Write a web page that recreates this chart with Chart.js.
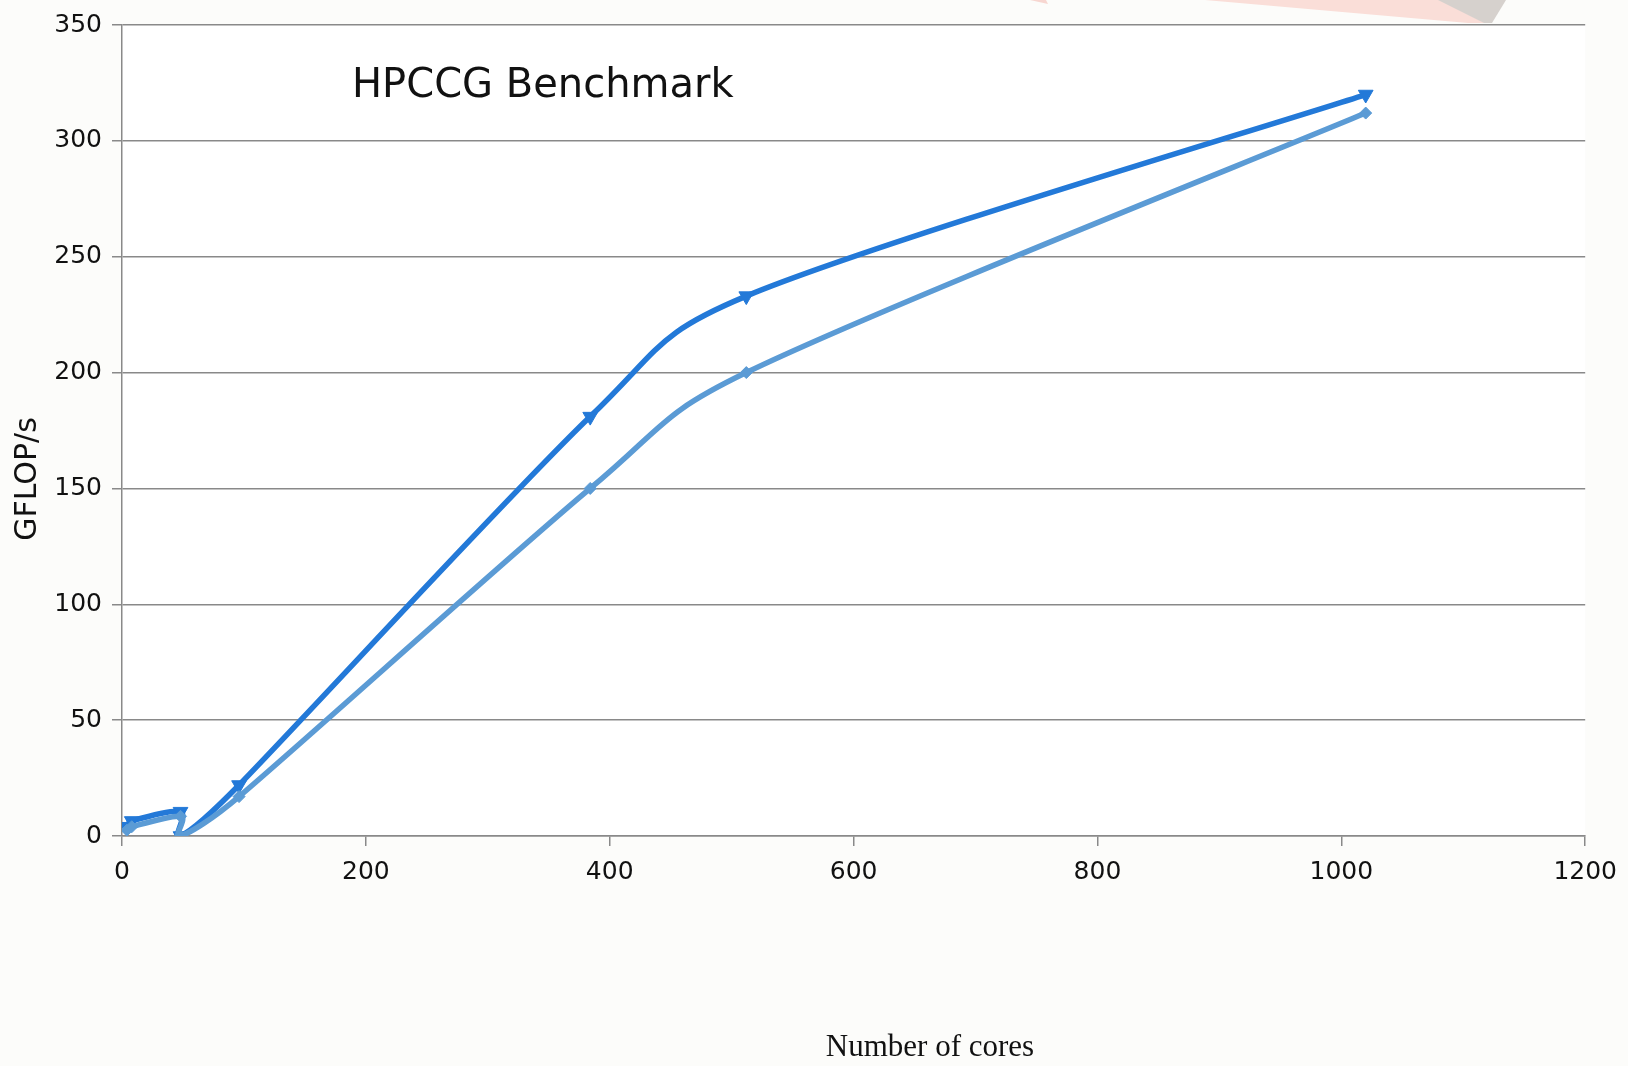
<!DOCTYPE html>
<html>
<head>
<meta charset="utf-8">
<script src="https://cdn.jsdelivr.net/npm/chart.js@4.4.0/dist/chart.umd.min.js"></script>
<style>
  html, body { margin: 0; padding: 0; background: #fcfcfa; }
  canvas { display: block; }
</style>
</head>
<body>
<canvas id="chart" width="1628" height="1066"></canvas>
<script>
// data
const cores = [4, 8, 48, 48, 96, 384, 512, 1020];
const gflopsDark = [4, 6.5, 10.5, 0, 22, 181, 233, 320];
const gflopsLight = [2.5, 4, 8.5, 0, 17, 150, 200, 312];
const xTicks = [0, 200, 400, 600, 800, 1000, 1200];
const yTicks = [0, 50, 100, 150, 200, 250, 300, 350];

const chartTitle = "HPCCG Benchmark";
const xTitle = "Number of cores";
const yTitle = "GFLOP/s";

const gridGrey = "#898989";
const textColor = "#111111";

const toPoints = (ys) => cores.map((c, i) => ({ x: c, y: ys[i] }));

// --------------- office style smoothing (control points) -----------------
const smoothPlugin = {
  id: "smooth",
  beforeDatasetDraw(chart, args) {
    const line = args.meta.dataset;
    const pts = args.meta.data;
    if (!line || pts.length < 2) return;
    line.updateControlPoints(chart.chartArea, "x");
    const n = pts.length;
    const dist = (a, b) => Math.hypot(b.x - a.x, b.y - a.y);
    for (let i = 0; i < n; i++) {
      const p = pts[i];
      const a = pts[Math.max(i - 1, 0)];
      const b = pts[Math.min(i + 1, n - 1)];
      const vx = b.x - a.x, vy = b.y - a.y;
      const vl = Math.hypot(vx, vy) || 1;
      const outLen = i < n - 1 ? Math.min(vl / 6, dist(p, pts[i + 1]) / 2) : 0;
      const inLen = i > 0 ? Math.min(vl / 6, dist(pts[i - 1], p) / 2) : 0;
      p.cp2x = p.x + vx / vl * outLen;
      p.cp2y = p.y + vy / vl * outLen;
      p.cp1x = p.x - vx / vl * inLen;
      p.cp1y = p.y - vy / vl * inLen;
    }
    line._pointsUpdated = true;
    line._path = undefined;
  }
};

// --------------- background + texts -----------------
const decorPlugin = {
  id: "decor",
  beforeDraw(chart) {
    const ctx = chart.ctx;
    const a = chart.chartArea;
    ctx.save();
    ctx.fillStyle = "#fcfcfa";
    ctx.fillRect(0, 0, chart.width, chart.height);

    // faint background picture pieces, top right
    ctx.fillStyle = "rgb(247, 214, 208)";
    ctx.beginPath();
    ctx.moveTo(1030, 0); ctx.lineTo(1046, 0); ctx.lineTo(1048, 4);
    ctx.closePath(); ctx.fill();

    ctx.fillStyle = "rgb(250, 222, 216)";
    ctx.beginPath();
    ctx.moveTo(1205, 0); ctx.lineTo(1440, 0); ctx.lineTo(1485, 23); ctx.lineTo(1468, 23);
    ctx.closePath(); ctx.fill();

    ctx.fillStyle = "rgb(214, 209, 205)";
    ctx.beginPath();
    ctx.moveTo(1438, 0); ctx.lineTo(1506, 0); ctx.lineTo(1492, 23); ctx.lineTo(1484, 23);
    ctx.closePath(); ctx.fill();

    ctx.fillStyle = "#ffffff";
    ctx.fillRect(a.left, a.top, a.right - a.left, a.bottom - a.top);
    ctx.restore();
  },
  afterDraw(chart) {
    const ctx = chart.ctx;
    ctx.save();
    ctx.fillStyle = textColor;

    ctx.font = "40px 'DejaVu Sans'";
    ctx.textAlign = "left";
    ctx.textBaseline = "alphabetic";
    ctx.fillText(chartTitle, 352, 97);

    ctx.font = "31px 'Liberation Serif'";
    ctx.textAlign = "center";
    ctx.fillText(xTitle, 930, 1056);

    ctx.translate(28, 479);
    ctx.rotate(-Math.PI / 2);
    ctx.font = "30px 'DejaVu Sans'";
    ctx.textBaseline = "middle";
    ctx.fillText(yTitle, 0, 0);
    ctx.restore();
  }
};

new Chart(document.getElementById("chart"), {
  type: "line",
  data: {
    datasets: [
      {
        label: "light",
        data: toPoints(gflopsLight),
        borderColor: "#5b9bd5",
        backgroundColor: "#5b9bd5",
        borderWidth: 5.5,
        tension: 0.4,
        pointStyle: "rectRot",
        pointRadius: 6,
        pointBorderWidth: 1,
        order: 0
      },
      {
        label: "dark",
        data: toPoints(gflopsDark),
        borderColor: "#2379d8",
        backgroundColor: "#2379d8",
        borderWidth: 5.5,
        tension: 0.4,
        pointStyle: "triangle",
        pointRotation: 180,
        pointRadius: 8.5,
        pointBorderWidth: 1,
        order: 1
      }
    ]
  },
  options: {
    responsive: false,
    animation: false,
    layout: { padding: { top: 22, right: 42, left: 0, bottom: 0 } },
    plugins: { legend: { display: false }, tooltip: { enabled: false } },
    scales: {
      x: {
        type: "linear",
        min: 0,
        max: 1200,
        afterBuildTicks: (s) => { s.ticks = xTicks.map(v => ({ value: v })); },
        afterFit: (s) => { s.height = 230; },
        grid: { drawOnChartArea: false, color: gridGrey, lineWidth: 1.5, tickLength: 10 },
        border: { color: gridGrey, width: 1.5 },
        ticks: {
          color: textColor, padding: 11, maxRotation: 0,
          font: { family: "DejaVu Sans", size: 25 },
          callback: (v) => String(v)
        }
      },
      y: {
        min: 0,
        max: 350,
        afterBuildTicks: (s) => { s.ticks = yTicks.map(v => ({ value: v })); },
        afterFit: (s) => { s.width = 122; },
        grid: { color: gridGrey, lineWidth: 1.5, tickLength: 10 },
        border: { color: gridGrey, width: 1.5 },
        ticks: {
          color: textColor, padding: 10,
          font: { family: "DejaVu Sans", size: 25 },
          callback: (v) => String(v)
        }
      }
    }
  },
  plugins: [decorPlugin, smoothPlugin]
});
</script>
</body>
</html>
